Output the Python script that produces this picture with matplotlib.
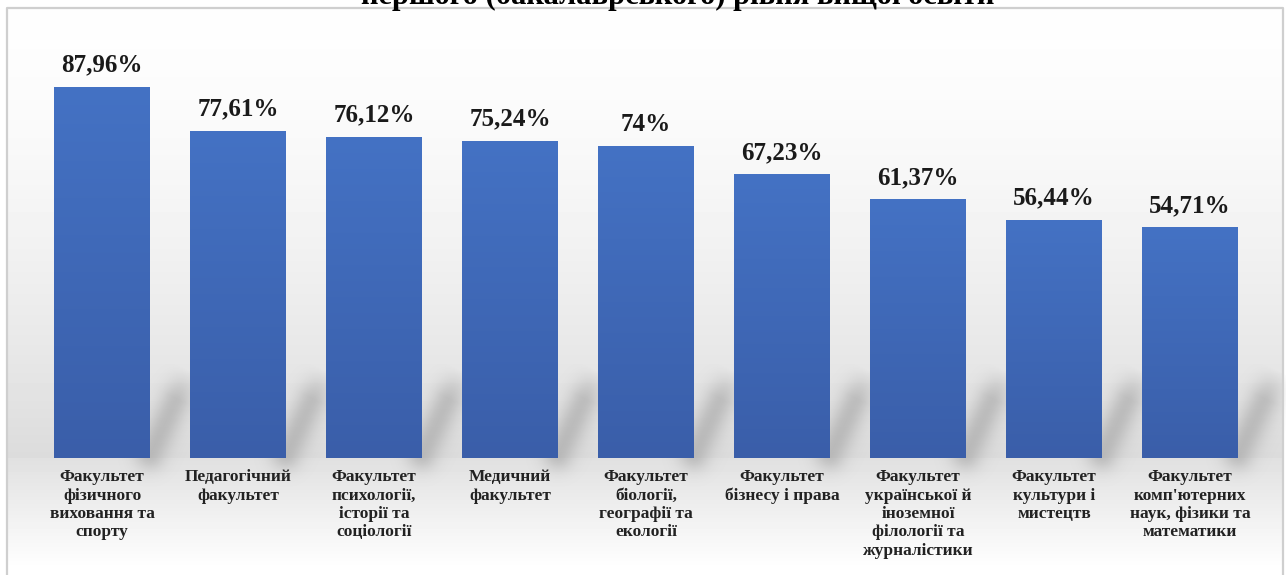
import numpy as np
import matplotlib.pyplot as plt
from matplotlib.colors import LinearSegmentedColormap

faculties = [
    "Факультет\nфізичного\nвиховання та\nспорту",
    "Педагогічний\nфакультет",
    "Факультет\nпсихології,\nісторії та\nсоціології",
    "Медичний\nфакультет",
    "Факультет\nбіології,\nгеографії та\nекології",
    "Факультет\nбізнесу і права",
    "Факультет\nукраїнської й\nіноземної\nфілології та\nжурналістики",
    "Факультет\nкультури і\nмистецтв",
    "Факультет\nкомп'ютерних\nнаук, фізики та\nматематики",
]
values = [87.96, 77.61, 76.12, 75.24, 74.0, 67.23, 61.37, 56.44, 54.71]
value_labels = ["87,96%", "77,61%", "76,12%", "75,24%", "74%",
                "67,23%", "61,37%", "56,44%", "54,71%"]
title = "першого (бакалаврського) рівня вищої освіти"

plt.rcParams["font.family"] = ["Liberation Serif", "DejaVu Serif"]

W, H = 1286, 575
fig = plt.figure(figsize=(W / 100, H / 100), dpi=100)

# background: white -> gray at baseline -> white at bottom
bg = fig.add_axes([0, 0, 1, 1], zorder=0)
bg.set_xlim(0, W)
bg.set_ylim(H, 0)
bg.axis("off")
ys = np.arange(H)
shade = np.where(ys < 458,
                 0.995 - (0.995 - 0.86) * np.clip((ys - 8) / 450, 0, 1) ** 1.6,
                 0.88 + (1.0 - 0.88) * np.clip((ys - 458) / 110, 0, 1))
shade[ys < 8] = 1.0
img = np.repeat(shade[:, None], 2, axis=1)
bg.imshow(img, cmap="gray", vmin=0, vmax=1, extent=[7, 1283, H, 0], aspect="auto")
bg.plot([7, 7, 1283, 1283], [H, 8, 8, H], color="#cfcfcf", lw=1.6)
bg.text(W / 2 + 35, 4, title, ha="center", va="baseline", fontsize=22,
        fontweight="bold", color="black")

ax = fig.add_axes([34 / W, 117 / H, 1224 / W, 450 / H], zorder=1)
ax.patch.set_alpha(0)
x = np.arange(len(values))
ax.set_xlim(-0.5, len(values) - 0.5)
ax.set_ylim(0, 450 / 4.218)
ax.axis("off")

# soft diagonal shadows behind bars (computed in pixel space from bar positions)
gx, gy = np.meshgrid(np.arange(W), np.arange(H))
alpha = np.zeros((H, W))
for xi in x:
    px, py = ax.transData.transform((xi + 0.35, 0))
    base = H - py
    p0 = np.array([px, base - 4])
    p1 = np.array([px + 40, base - 88])
    d = p1 - p0
    t = np.clip(((gx - p0[0]) * d[0] + (gy - p0[1]) * d[1]) / (d @ d), 0, 1)
    dist2 = (gx - p0[0] - t * d[0]) ** 2 + (gy - p0[1] - t * d[1]) ** 2
    fade = np.clip((1 - t) * 3.0, 0, 1)
    alpha = np.maximum(alpha, 0.33 * np.exp(-dist2 / (2 * 11.0 ** 2)) * fade)
shadow = np.zeros((H, W, 4))
shadow[..., :3] = 0.45
shadow[..., 3] = alpha
bg.imshow(shadow, extent=[0, W, H, 0], aspect="auto", interpolation="bilinear")
bg.set_xlim(0, W)
bg.set_ylim(H, 0)

blues = LinearSegmentedColormap.from_list("b", ["#3a5ea9", "#4472c4"])
bars = ax.bar(x, values, width=0.7, color="#4472c4", zorder=2)
grad = np.linspace(0, 1, 256)[:, None]
for b in bars:
    x0, y0 = b.get_x(), b.get_y()
    im = ax.imshow(grad, cmap=blues, origin="lower", aspect="auto", zorder=3,
                   extent=[x0, x0 + b.get_width(), y0, y0 + b.get_height()])
    im.set_clip_path(b)
ax.set_xlim(-0.5, len(values) - 0.5)
ax.set_ylim(0, 450 / 4.218)

for xi, v, lab in zip(x, values, value_labels):
    ax.annotate(lab, (xi, v), xytext=(0, 11), textcoords="offset points",
                ha="center", va="baseline", fontsize=18, fontweight="bold",
                color="#1a1a1a", zorder=4)

for xi, name in zip(x, faculties):
    ax.annotate(name, (xi, 0), xytext=(0, -8), textcoords="offset points",
                ha="center", va="top", fontsize=12.5, fontweight="bold",
                color="#222222", linespacing=1.2, annotation_clip=False)

fig.savefig("out.png", dpi=100)
plt.close(fig)
